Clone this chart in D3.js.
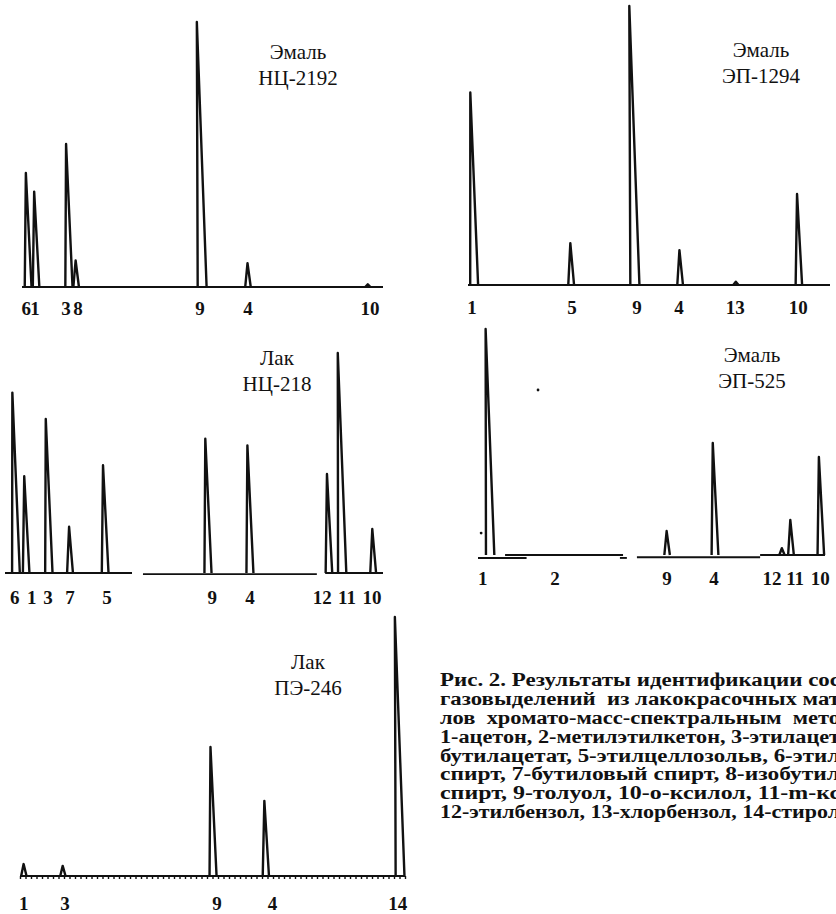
<!DOCTYPE html>
<html>
<head>
<meta charset="utf-8">
<script src="https://cdn.jsdelivr.net/npm/d3@7"></script>
<style>
  body { margin: 0; background: #fff; }
  svg { display: block; }
</style>
</head>
<body>
<script>
// retention positions are in arbitrary chart units, intensities in % of the biggest peak

// Эмаль НЦ-2192
const aTitle = ["Эмаль", "НЦ-2192"];
const aPeakRt = [1.7, 3.9, 13.0, 15.0, 49.9, 62.6, 95.8];
const aPeakH = [43, 36, 54, 10, 100, 9, 1];
const aLabels = ["6", "1", "3", "8", "9", "4", "10"];
const aLabelRt = [1.2, 3.6, 12.2, 15.5, 49.3, 62.6, 96.4];
const aBase = [[0, 100, 0]];

// Эмаль ЭП-1294
const bTitle = ["Эмаль", "ЭП-1294"];
const bPeakRt = [1.7, 28.5, 46.1, 58.6, 74.0, 91.4];
const bPeakH = [69, 15, 100, 12.5, 1.2, 32.6];
const bLabels = ["1", "5", "9", "4", "13", "10"];
const bLabelRt = [1.1, 28.7, 46.7, 58.3, 73.8, 91.2];
const bBase = [[0, 100, 0]];

// Лак НЦ-218
const cTitle = ["Лак", "НЦ-218"];
const cPeakRt = [2.9, 5.6, 11.6, 17.2, 26.5, 53.7, 64.8, 85.7, 89.2, 97.4];
const cPeakH = [82, 44, 70, 21, 49, 61, 58, 45, 100, 20];
const cLabels = ["6", "1", "3", "7", "5", "9", "4", "12", "11", "10"];
const cLabelRt = [2.6, 7.1, 11.4, 17.2, 27.0, 54.8, 64.8, 83.9, 90.5, 97.1];
const cBase = [[0, 33.6, 0], [36.5, 82.5, -0.5], [84.7, 100, 0]];

// Эмаль ЭП-525
const dTitle = ["Эмаль", "ЭП-525"];
const dPeakRt = [3.5, 54.5, 68.3, 87.6, 90.2, 98.8];
const dPeakH = [100, 10.6, 49.6, 3, 15.5, 43.4];
const dLabels = ["1", "2", "9", "4", "12", "11", "10"];
const dLabelRt = [1.4, 22.2, 54.5, 68.0, 84.7, 91.4, 98.6];
const dBase = [[0, 14.0, -1.3], [7.8, 41.8, 0], [40.9, 42.9, -1.3], [45.8, 81.3, -1.0], [81.3, 100, 0]];
const dSpecks = [[0.9, 9.7], [17.3, 73]];

// Лак ПЭ-246
const eTitle = ["Лак", "ПЭ-246"];
const ePeakRt = [0.7, 7.8, 35.1, 44.7, 69.1];
const ePeakH = [4.6, 3.9, 49.8, 29, 100];
const eLabels = ["1", "3", "9", "4", "14"];
const eLabelRt = [0.7, 8.2, 35.8, 45.9, 68.7];
const eBase = [[0, 70, 0]];

const captionLines = [
  "Рис. 2. Результаты идентификации сос",
  "газовыделений  из лакокрасочных мат",
  "лов  хромато-масс-спектральным  мето",
  "1-ацетон, 2-метилэтилкетон, 3-этилацет",
  "бутилацетат, 5-этилцеллозольв, 6-этил",
  "спирт, 7-бутиловый спирт, 8-изобутил",
  "спирт, 9-толуол, 10-о-ксилол, 11-m-кс",
  "12-этилбензол, 13-хлорбензол, 14-стирол"
];

const width = 836, height = 914;
const serif = "'Liberation Serif', 'DejaVu Serif', serif";

const svg = d3.select("body").append("svg")
  .attr("width", width)
  .attr("height", height);

svg.append("rect").attr("width", width).attr("height", height).attr("fill", "#fff");

const panels = [
  { title: aTitle, rt: aPeakRt, h: aPeakH, labels: aLabels, labelRt: aLabelRt, base: aBase,
    domain: [0, 100], x0: 22, x1: 383, y0: 287, y1: 22, titleX: 298, titleY: 52, labelY: 308 },
  { title: bTitle, rt: bPeakRt, h: bPeakH, labels: bLabels, labelRt: bLabelRt, base: bBase,
    domain: [0, 100], x0: 468, x1: 830, y0: 285, y1: 6, titleX: 761, titleY: 50, labelY: 307 },
  { title: cTitle, rt: cPeakRt, h: cPeakH, labels: cLabels, labelRt: cLabelRt, base: cBase,
    domain: [0, 100], x0: 5, x1: 383, y0: 573, y1: 353, titleX: 277, titleY: 358, labelY: 597 },
  { title: dTitle, rt: dPeakRt, h: dPeakH, labels: dLabels, labelRt: dLabelRt, base: dBase,
    domain: [0, 100], x0: 478, x1: 825, y0: 555, y1: 329, titleX: 752, titleY: 355, labelY: 578,
    specks: dSpecks },
  { title: eTitle, rt: ePeakRt, h: ePeakH, labels: eLabels, labelRt: eLabelRt, base: eBase,
    domain: [0, 70], x0: 20, x1: 405, y0: 876, y1: 617, titleX: 308, titleY: 662, labelY: 903,
    ticks: true }
];

panels.forEach(p => {
  const x = d3.scaleLinear().domain(p.domain).range([p.x0, p.x1]);
  const y = d3.scaleLinear().domain([0, 100]).range([p.y0, p.y1]);
  const g = svg.append("g");

  // baseline pieces
  g.selectAll("line.base")
    .data(p.base)
    .join("line")
    .attr("class", "base")
    .attr("x1", d => x(d[0]))
    .attr("x2", d => x(d[1]))
    .attr("y1", d => y(d[2]))
    .attr("y2", d => y(d[2]))
    .attr("stroke", "#111")
    .attr("stroke-width", 1.9);

  if (p.ticks) {
    const axis = d3.axisBottom(x).ticks(70).tickSize(3).tickFormat("");
    const ax = g.append("g").attr("transform", `translate(0,${p.y0})`).call(axis);
    ax.select(".domain").remove();
    ax.selectAll("line").attr("stroke", "#111").attr("stroke-width", 1.4);
  }

  // peaks: narrow hollow spikes leaning slightly left at the apex
  const peaks = p.rt.map((r, i) => ({ rt: r, h: p.h[i] }));
  g.selectAll("path.peak")
    .data(peaks)
    .join("path")
    .attr("class", "peak")
    .attr("d", d => {
      const cx = x(d.rt);
      const top = y(d.h);
      const hpx = p.y0 - top;
      const half = 2.6 + hpx * 0.007;
      const lean = -hpx * 0.02;
      return `M${cx - half},${p.y0} L${cx + lean},${top} L${cx + half},${p.y0}`;
    })
    .attr("fill", "none")
    .attr("stroke", "#111")
    .attr("stroke-width", 2.4)
    .attr("stroke-linejoin", "round");

  if (p.specks) {
    g.selectAll("circle.speck")
      .data(p.specks)
      .join("circle")
      .attr("class", "speck")
      .attr("cx", d => x(d[0]))
      .attr("cy", d => y(d[1]))
      .attr("r", 1.4)
      .attr("fill", "#111");
  }

  // compound numbers under the peaks
  g.selectAll("text.lbl")
    .data(p.labels)
    .join("text")
    .attr("class", "lbl")
    .attr("x", (d, i) => x(p.labelRt[i]))
    .attr("y", p.labelY)
    .attr("dy", "0.35em")
    .attr("text-anchor", "middle")
    .style("font-family", serif)
    .style("font-weight", "bold")
    .style("font-size", "19px")
    .attr("fill", "#111")
    .text(d => d);

  // sample name
  g.selectAll("text.ttl")
    .data(p.title)
    .join("text")
    .attr("class", "ttl")
    .attr("x", p.titleX)
    .attr("y", (d, i) => p.titleY + i * 26)
    .attr("dy", "0.35em")
    .attr("text-anchor", "middle")
    .style("font-family", serif)
    .style("font-size", "21px")
    .attr("fill", "#111")
    .text(d => d);
});

// figure caption, cut off by the right edge as in the scan
svg.append("g")
  .selectAll("text")
  .data(captionLines)
  .join("text")
  .attr("x", 440)
  .attr("y", (d, i) => 680 + i * 18.8)
  .attr("dy", "0.35em")
  .attr("textLength", 400)
  .attr("lengthAdjust", "spacingAndGlyphs")
  .style("white-space", "pre")
  .style("font-family", serif)
  .style("font-weight", "bold")
  .style("font-size", "18px")
  .attr("fill", "#111")
  .text(d => d);
</script>
</body>
</html>
